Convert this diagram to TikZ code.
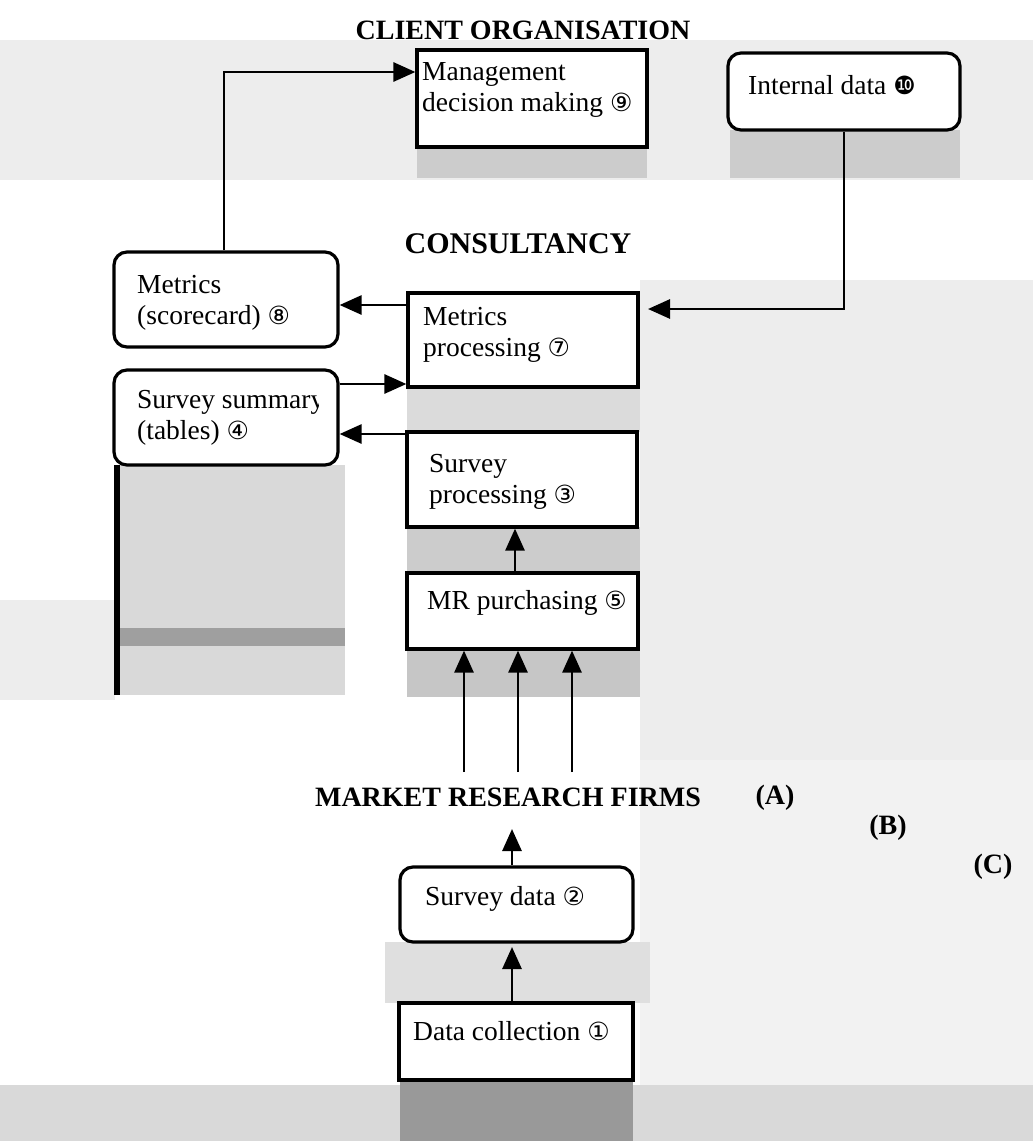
\documentclass[tikz,border=0pt]{standalone}
\usepackage{fontspec}
\setmainfont{Liberation Serif}
\newfontfamily\dv{DejaVu Sans}
\usetikzlibrary{arrows.meta}
\newcommand{\cn}[1]{{\dv\fontsize{25}{26}\selectfont #1}}
\begin{document}
\begin{tikzpicture}[x=1pt,y=-1pt,
  box/.style={draw, line width=3.2pt, fill=white, inner sep=0pt},
  rbox/.style={box, rounded corners=13pt},
  txt/.style={inner sep=0pt, anchor=base west, align=left, font=\fontsize{27.5}{31}\selectfont},
  ttl/.style={inner sep=0pt, font=\bfseries\fontsize{28}{30}\selectfont},
  arr/.style={line width=2.8pt, -{Triangle[length=22pt,width=19pt]}},
  shade/.style={fill=gray!40},
  lshade/.style={fill=gray!14}]
\useasboundingbox (0,0) rectangle (1033,1141);
\fill[white] (0,0) rectangle (1033,1141);
% scan background tones
\fill[lshade] (0,40) rectangle (1033,180);
\fill[lshade] (640,280) rectangle (1033,760);
\fill[lshade] (0,600) rectangle (115,700);
\fill[gray!10] (640,760) rectangle (1033,1141);
\fill[shade] (417,147) rectangle (647,178);
\fill[shade] (730,130) rectangle (960,178);
\fill[gray!30] (114,465) rectangle (345,695);
\fill[gray!75] (114,628) rectangle (345,646);
\fill[black] (114,465) rectangle (120,695);
\fill[gray!28] (407,387) rectangle (640,432);
\fill[gray!40] (407,527) rectangle (640,573);
\fill[gray!45] (407,649) rectangle (640,697);
\fill[gray!25] (385,942) rectangle (650,1003);
\fill[gray!30] (0,1085) rectangle (1033,1141);
\fill[gray!80] (400,1080) rectangle (633,1141);

% boxes
\node[box, minimum width=230pt, minimum height=97pt] (mgmt) at (532,98.5) {};
\node[rbox, minimum width=232pt, minimum height=77pt] (intd) at (844,91.5) {};
\node[rbox, minimum width=224pt, minimum height=95pt] (msc) at (226,299.5) {};
\node[box, minimum width=230pt, minimum height=94pt] (mp) at (523,340) {};
\node[rbox, minimum width=224pt, minimum height=95pt] (ss) at (226,417.5) {};
\node[box, minimum width=230pt, minimum height=95pt] (sp) at (522,479.5) {};
\node[box, minimum width=231pt, minimum height=76pt] (mr) at (522.5,611) {};
\node[rbox, minimum width=233pt, minimum height=75pt] (sd) at (516.5,904.5) {};
\node[box, minimum width=234pt, minimum height=77pt] (dc) at (516,1041.5) {};

% texts (anchor = baseline of the last line)
\node[txt] (tmgmt) at (422,111) {Management\\decision making \cn{⑨}};
\node[txt] (tintd) at (748,94) {Internal data \cn{❿}};
\node[txt] (tmsc) at (137,324) {Metrics\\(scorecard) \cn{⑧}};
\node[txt] (tmp) at (423,356) {Metrics\\processing \cn{⑦}};
\begin{scope}
\clip (ss.north west) rectangle (318,465);
\node[txt] (tss) at (137,439) {Survey summary\\(tables) \cn{④}};
\end{scope}
\node[txt] (tsp) at (429,503) {Survey\\processing \cn{③}};
\node[txt] (tmr) at (427,609) {MR purchasing \cn{⑤}};
\node[txt] (tsd) at (425,905) {Survey data \cn{②}};
\node[txt] (tdc) at (413,1040) {Data collection \cn{①}};

% titles
\node[ttl] (tco) at (523,30) {CLIENT ORGANISATION};
\node[ttl, font=\bfseries\fontsize{30}{32}\selectfont] (tcons) at (518,244) {CONSULTANCY};
\node[ttl] (tmrf) at (508,797) {MARKET RESEARCH FIRMS};
\node[ttl] (tA) at (775,798) {(A)};
\node[ttl] (tB) at (888,828) {(B)};
\node[ttl] (tC) at (993,867) {(C)};

% connectors
\coordinate (tipI) at (648,309);
\coordinate (m1) at (464,772);
\coordinate (m2) at (518,772);
\coordinate (m3) at (572,772);
\coordinate (tipS) at (512,829);
\coordinate (tipD) at (512,947);
\draw[arr] (msc.north -| 224,0) |- (mgmt.west |- 0,72);
\draw[arr] (intd.south) |- (tipI);
\draw[arr] (mp.west |- 0,305) -- (msc.east |- 0,305);
\draw[arr] (ss.east |- 0,384) -- (mp.west |- 0,384);
\draw[arr] (sp.west |- 0,434) -- (ss.east |- 0,434);
\draw[arr] (mr.north -| 515,0) -- (sp.south -| 515,0);
\draw[arr] (m1) -- (mr.south -| m1);
\draw[arr] (m2) -- (mr.south -| m2);
\draw[arr] (m3) -- (mr.south -| m3);
\draw[arr] (sd.north -| tipS) -- (tipS);
\draw[arr] (dc.north -| tipD) -- (tipD);
\end{tikzpicture}
\end{document}
